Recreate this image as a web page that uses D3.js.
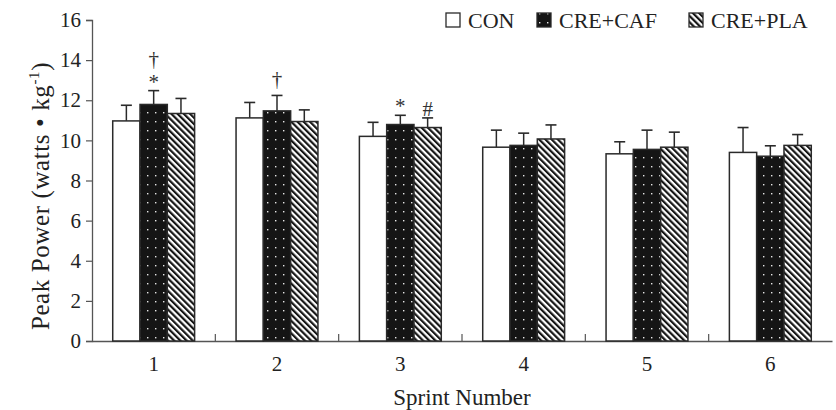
<!DOCTYPE html>
<html><head><meta charset="utf-8">
<script src="https://cdn.jsdelivr.net/npm/d3@7"></script>
<style>
html,body{margin:0;padding:0;background:#fff;}
svg{display:block;font-family:"Liberation Serif","Times New Roman",serif;}
</style></head>
<body>
<svg id="chart" width="836" height="410"></svg>
<script>
const categories = ['1','2','3','4','5','6'];
const seriesNames = ['CON','CRE+CAF','CRE+PLA'];
const conValues = [10.97, 11.12, 10.20, 9.66, 9.33, 9.40];
const conSD     = [0.78, 0.77, 0.70, 0.85, 0.60, 1.24];
const cafValues = [11.79, 11.47, 10.79, 9.75, 9.55, 9.21];
const cafSD     = [0.69, 0.77, 0.46, 0.61, 0.96, 0.52];
const plaValues = [11.34, 10.94, 10.64, 10.07, 9.66, 9.75];
const plaSD     = [0.75, 0.58, 0.48, 0.70, 0.75, 0.54];
const yTicks = [0,2,4,6,8,10,12,14,16];
const annotations = [
  {group:'1', series:'CRE+CAF', labels:['*','†']},
  {group:'2', series:'CRE+CAF', labels:['†']},
  {group:'3', series:'CRE+CAF', labels:['*']},
  {group:'3', series:'CRE+PLA', labels:['#']}
];

const means = {'CON':conValues,'CRE+CAF':cafValues,'CRE+PLA':plaValues};
const sds = {'CON':conSD,'CRE+CAF':cafSD,'CRE+PLA':plaSD};
const fills = {'CON':'#ffffff','CRE+CAF':'url(#dots)','CRE+PLA':'url(#hatch)'};

const svg = d3.select('#chart');
const m = {left:92, right:832, top:20, bottom:341};
const ink = '#2a2a2a';

const defs = svg.append('defs');
const dots = defs.append('pattern').attr('id','dots').attr('patternUnits','userSpaceOnUse')
  .attr('width',8).attr('height',9);
dots.append('rect').attr('width',8).attr('height',9).attr('fill','#151515');
dots.append('rect').attr('x',3).attr('y',4).attr('width',1.4).attr('height',1.4).attr('fill','#e8e8e8');
const hatch = defs.append('pattern').attr('id','hatch').attr('patternUnits','userSpaceOnUse')
  .attr('width',4.4).attr('height',10).attr('patternTransform','rotate(-45)');
hatch.append('rect').attr('width',4.4).attr('height',10).attr('fill','#fff');
hatch.append('rect').attr('x',0).attr('y',0).attr('width',2.2).attr('height',10).attr('fill','#151515');

const x0 = d3.scaleBand().domain(categories).range([m.left, m.right]).paddingInner(0.336).paddingOuter(0.168);
const outer = d3.scaleBand().domain(categories).range([m.left, m.right]);
const x1 = d3.scaleBand().domain(seriesNames).range([0, x0.bandwidth()]);
const y = d3.scaleLinear().domain([0,16]).range([m.bottom, m.top]);

// y axis
const yAxis = svg.append('g').attr('transform',`translate(${m.left},0)`)
  .call(d3.axisLeft(y).tickValues(yTicks).tickSize(6).tickPadding(5).tickFormat(d3.format('d')));
yAxis.select('.domain').attr('stroke','#555').attr('stroke-width',1.3);
yAxis.selectAll('.tick line').attr('stroke','#555').attr('stroke-width',1.2);
yAxis.selectAll('text').attr('font-size',21).attr('fill','#222').attr('font-family','Liberation Serif');

// x axis
const xAxis = svg.append('g').attr('transform',`translate(0,${m.bottom})`)
  .call(d3.axisBottom(outer).tickSize(0).tickPadding(15));
xAxis.select('.domain').attr('stroke','#555').attr('stroke-width',1.5);
xAxis.selectAll('text').attr('font-size',21).attr('fill','#222').attr('font-family','Liberation Serif');
// separators between groups
svg.append('g').selectAll('line').data(categories.slice(1)).join('line')
  .attr('x1',d=>outer(d)).attr('x2',d=>outer(d))
  .attr('y1',m.bottom).attr('y2',m.bottom-7)
  .attr('stroke','#555').attr('stroke-width',1.2);

// bars
const flat = [];
categories.forEach((c,i)=>seriesNames.forEach(s=>flat.push({c, s, v:means[s][i], sd:sds[s][i]})));
const bx = d => x0(d.c) + x1(d.s);
// error bars (upward only)
const eb = svg.append('g');
eb.selectAll('line.v').data(flat).join('line').attr('class','v')
  .attr('x1',d=>bx(d)+x1.bandwidth()/2).attr('x2',d=>bx(d)+x1.bandwidth()/2)
  .attr('y1',d=>y(d.v)).attr('y2',d=>y(d.v+d.sd))
  .attr('stroke',ink).attr('stroke-width',1.5);
eb.selectAll('line.c').data(flat).join('line').attr('class','c')
  .attr('x1',d=>bx(d)+x1.bandwidth()/2-5.5).attr('x2',d=>bx(d)+x1.bandwidth()/2+5.5)
  .attr('y1',d=>y(d.v+d.sd)).attr('y2',d=>y(d.v+d.sd))
  .attr('stroke',ink).attr('stroke-width',1.6);
svg.append('g').selectAll('rect').data(flat).join('rect')
  .attr('x',bx).attr('width',x1.bandwidth())
  .attr('y',d=>y(d.v)).attr('height',d=>y(0)-y(d.v))
  .attr('fill',d=>fills[d.s]).attr('stroke',ink).attr('stroke-width',1.5);

// annotations
const ann = svg.append('g');
annotations.forEach(a=>{
  const i = categories.indexOf(a.group);
  const top = means[a.series][i] + sds[a.series][i];
  const cx = x0(a.group) + x1(a.series) + x1.bandwidth()/2;
  a.labels.forEach((t,k)=>{
    ann.append('text').attr('x',cx).attr('y', y(top) - 2 - k*23 - (a.labels.length===1 && t==='†' ? 7 : 0))
      .attr('text-anchor','middle').attr('font-size',21).attr('fill','#333').text(t);
  });
});

// y label
const yl = svg.append('text').attr('transform','translate(49,196) rotate(-90)')
  .attr('text-anchor','middle').attr('font-size',25).attr('letter-spacing',0.6).attr('fill','#222');
yl.append('tspan').text('Peak Power (watts • kg');
yl.append('tspan').attr('dy',-10).attr('font-size',15).text('-1');
yl.append('tspan').attr('dy',10).text(')');

// x label
svg.append('text').attr('x',462).attr('y',405).attr('text-anchor','middle')
  .attr('font-size',23).attr('fill','#222').text('Sprint Number');

// legend
const legX = {'CON':446,'CRE+CAF':537,'CRE+PLA':689};
const lg = svg.append('g');
seriesNames.forEach(s=>{
  lg.append('rect').attr('x',legX[s]).attr('y',13).attr('width',14).attr('height',14)
    .attr('fill',fills[s]).attr('stroke',ink).attr('stroke-width',1.3);
  lg.append('text').attr('x',legX[s]+22).attr('y',28).attr('font-size',22).attr('fill','#222').text(s);
});
</script>
</body></html>
